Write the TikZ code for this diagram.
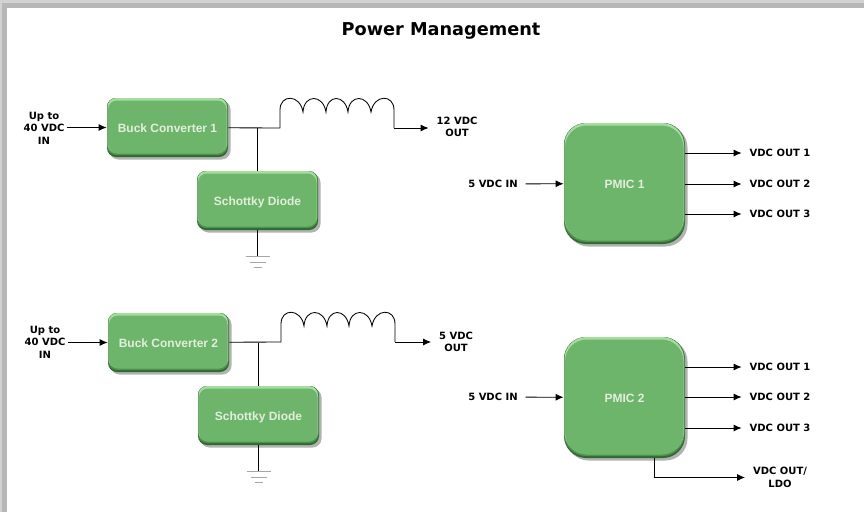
\documentclass[tikz,border=0pt]{standalone}
\usepackage{fontspec}
\setmainfont{DejaVu Sans}
\setsansfont{Liberation Sans}
\usetikzlibrary{calc}
\usetikzlibrary{positioning}
\usetikzlibrary{arrows.meta,shadows}
\definecolor{boxgreen}{HTML}{6DB56A}
\definecolor{boxmid}{HTML}{4E9150}
\definecolor{boxedge}{HTML}{2F6B30}
\definecolor{boxlight}{HTML}{A5DC9F}
\definecolor{boxtext}{HTML}{E2EEDC}
\definecolor{framegray}{HTML}{B7B7B7}
\definecolor{frameouter}{HTML}{D2D2D2}
\tikzset{
  bevelbox/.style={
    fill=boxedge, rounded corners=#1, align=center,
    text=boxtext, text height=10pt, text depth=0pt,
    font=\sffamily\bfseries\fontsize{12}{14}\selectfont,
    general shadow={fill=black!30, shadow xshift=2.5pt, shadow yshift=-2.5pt},
    path picture={
      \fill [boxmid, rounded corners=#1]
        (path picture bounding box.north west) rectangle
        ($(path picture bounding box.south east)+(-0.5,-2)$);
      \fill [boxlight, rounded corners=#1]
        ($(path picture bounding box.north west)+(0.5,0)$) rectangle
        ($(path picture bounding box.south east)+(-1,-4)$);
      \fill [boxgreen, rounded corners=#1]
        ($(path picture bounding box.north west)+(1,2.5)$) rectangle
        ($(path picture bounding box.south east)+(-1.5,-3.5)$);
    }},
  buckbox/.style={bevelbox=9pt, minimum width=121pt, minimum height=59pt},
  pmicbox/.style={bevelbox=22pt, minimum width=121pt, minimum height=121pt},
  label/.style={align=center, inner sep=2pt, outer sep=6pt,
    font=\bfseries\fontsize{10}{12.5}\selectfont},
  inductor/.pic={
    \draw (0,0) -- (0,-18) .. controls (0,-34) and (20,-34) .. (23,-16)
      .. controls (24,-34) and (43,-34) .. (46,-16)
      .. controls (47,-34) and (65,-34) .. (68,-16)
      .. controls (69,-34) and (88,-34) .. (91,-16)
      .. controls (94,-34) and (114,-34) .. (114,-18) -- (114,0);
  },
  earth/.pic={
    \draw [black!35] (-12,0) -- (12,0) (-8,6) -- (8,6) (-4,11) -- (4,11);
  }
}

\begin{document}
\begin{tikzpicture}[x=1pt, y=-1pt, >={Latex[length=8pt,width=7pt]}, line width=0.85pt]
  \useasboundingbox (0,0) rectangle (864,512);
  \fill [frameouter] (0,0) rectangle (864,512);
  \fill [framegray] (2,3) rectangle (864,512);
  \fill [white] (7,8) rectangle (864,512);

  \node [font=\bfseries\fontsize{17.7}{20}\selectfont] (title) at (441,31) {Power Management};

  % upper left
  \node [buckbox] (buck1) at (167.5,127.5) {Buck Converter 1};
  \node [buckbox] (diode1) at (257.5,200.5) {Schottky Diode};
  \node [label, outer sep=1pt] (in1) at (44,128) {Up to\\40 VDC\\IN};
  \node [label] (out1) at (457,127) {12 VDC\\OUT};
  \coordinate (coil1a) at (280,128);
  \coordinate (coil1b) at (394,128);
  \coordinate (gnd1) at (257.5,256);
  \pic at (coil1a) {inductor};
  \pic at (gnd1) {earth};
  \draw [->] (in1.east |- buck1) -- (buck1);
  \draw (buck1) -- (coil1a);
  \draw (diode1) -- (diode1 |- buck1);
  \draw [->] (coil1b) -- (out1.west |- coil1b);
  \draw (diode1) -- (gnd1);

  % lower left
  \node [buckbox] (buck2) at (168.5,342.5) {Buck Converter 2};
  \node [buckbox] (diode2) at (258.5,415.5) {Schottky Diode};
  \node [label, outer sep=1pt] (in2) at (45,342) {Up to\\40 VDC\\IN};
  \node [label] (out2) at (456,342) {5 VDC\\OUT};
  \coordinate (coil2a) at (281,342);
  \coordinate (coil2b) at (395,342);
  \coordinate (gnd2) at (258.5,471);
  \pic at (coil2a) {inductor};
  \pic at (gnd2) {earth};
  \draw [->] (in2.east |- buck2) -- (buck2);
  \draw (buck2) -- (coil2a);
  \draw (diode2) -- (diode2 |- buck2);
  \draw [->] (coil2b) -- (out2.west |- coil2b);
  \draw (diode2) -- (gnd2);

  % upper right
  \node [pmicbox] (pmic1) at (624.5,183.5) {PMIC 1};
  \node [label] (pin1) at (493,184) {5 VDC IN};
  \node [label] (p1out1) at (780,153) {VDC OUT 1};
  \node [label] (p1out2) at (780,184) {VDC OUT 2};
  \node [label] (p1out3) at (780,214) {VDC OUT 3};
  \draw [->] (pin1) -- (pmic1);
  \draw [->] (pmic1.east |- p1out1) -- (p1out1);
  \draw [->] (pmic1.east |- p1out2) -- (p1out2);
  \draw [->] (pmic1.east |- p1out3) -- (p1out3);

  % lower right
  \node [pmicbox] (pmic2) at (624.5,397.5) {PMIC 2};
  \node [label] (pin2) at (493,397) {5 VDC IN};
  \node [label] (p2out1) at (780,367) {VDC OUT 1};
  \node [label] (p2out2) at (780,397) {VDC OUT 2};
  \node [label] (p2out3) at (780,428) {VDC OUT 3};
  \node [label] (p2ldo) at (780,477.5) {VDC OUT/\\LDO};
  \coordinate (ldotap) at (654,458);
  \draw [->] (pin2) -- (pmic2);
  \draw [->] (pmic2.east |- p2out1) -- (p2out1);
  \draw [->] (pmic2.east |- p2out2) -- (p2out2);
  \draw [->] (pmic2.east |- p2out3) -- (p2out3);
  \draw [->] (ldotap) |- (p2ldo);
\end{tikzpicture}
\end{document}
